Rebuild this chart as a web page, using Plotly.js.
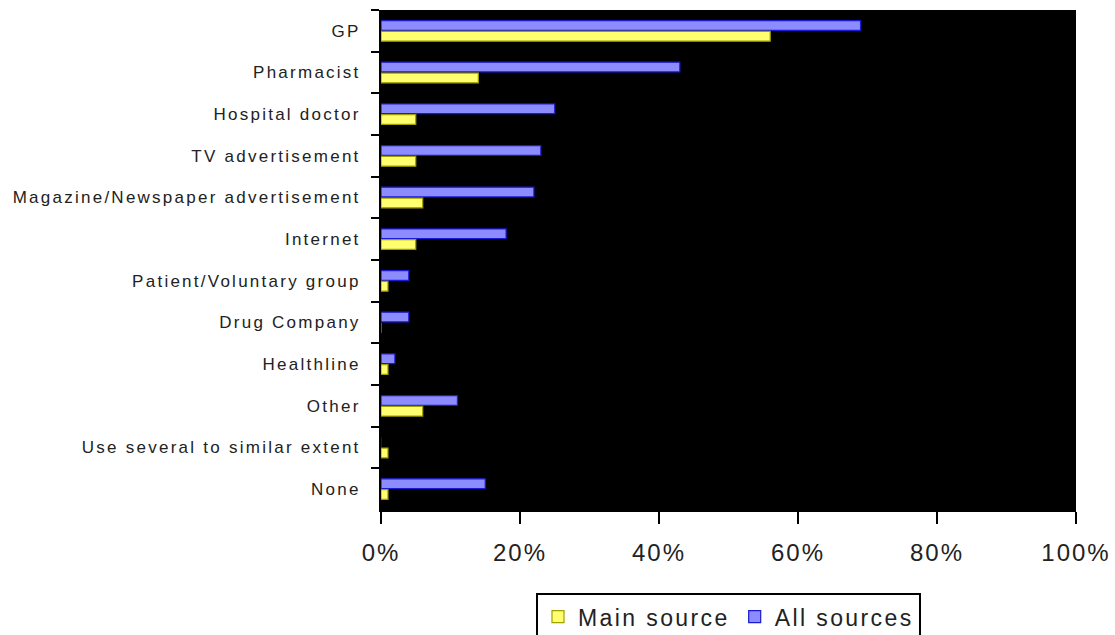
<!DOCTYPE html>
<html>
<head>
<meta charset="utf-8">
<script src="https://cdn.plot.ly/plotly-3.0.1.min.js"></script>
<style>
  html, body { margin: 0; padding: 0; background: #fff; }
  #chart { width: 1115px; height: 635px; }
  .ytick text { letter-spacing: 2.25px; }
  .xtick text { letter-spacing: 2px; }
  .legendtext { letter-spacing: 2.4px; }
</style>
</head>
<body>
<div id="chart"></div>
<script>
const categories = [
  "GP", "Pharmacist", "Hospital doctor", "TV advertisement",
  "Magazine/Newspaper advertisement", "Internet", "Patient/Voluntary group",
  "Drug Company", "Healthline", "Other", "Use several to similar extent", "None"
];
const mainSource = [56, 14, 5, 5, 6, 5, 1, 0, 1, 6, 1, 1];
const allSources = [69, 43, 25, 23, 22, 18, 4, 4, 2, 11, 0, 15];
const xTicks = [0, 20, 40, 60, 80, 100];

const traces = [
  {
    type: "bar", orientation: "h", name: "All sources",
    y: categories, x: allSources,
    marker: { color: "#8c8cff", line: { color: "#1a1ad0", width: 1.2 } }
  },
  {
    type: "bar", orientation: "h", name: "Main source",
    y: categories, x: mainSource,
    marker: { color: "#ffff70", line: { color: "#a0a000", width: 1.2 } }
  }
];

const layout = {
  width: 1115, height: 635,
  margin: { l: 381, r: 39, t: 10, b: 125 },
  paper_bgcolor: "#ffffff",
  plot_bgcolor: "#000000",
  barmode: "group",
  bargap: 0.48,
  bargroupgap: 0.1,
  font: { family: "Liberation Sans, Arial, sans-serif", color: "#222" },
  xaxis: {
    range: [0, 100], tickvals: xTicks, ticktext: xTicks.map(v => v + "%"),
    showgrid: false, zeroline: false,
    showline: true, linecolor: "#000", linewidth: 2,
    ticks: "outside", ticklen: 12, tickwidth: 2, tickcolor: "#000",
    tickfont: { size: 24, color: "#222" }, ticklabelstandoff: 8
  },
  yaxis: {
    type: "category", categoryorder: "array", categoryarray: categories,
    autorange: "reversed",
    showgrid: false, zeroline: false,
    showline: true, linecolor: "#000", linewidth: 2,
    ticks: "outside", tickson: "boundaries", ticklen: 8, tickwidth: 2, tickcolor: "#000",
    tickfont: { size: 17, color: "#222" }, ticklabelstandoff: 15
  },
  showlegend: true,
  legend: {
    orientation: "h", traceorder: "reversed",
    xref: "paper", yref: "container",
    x: 0.5, xanchor: "center", y: 0.066, yanchor: "top",
    bordercolor: "#000", borderwidth: 2, bgcolor: "#fff",
    font: { size: 23, color: "#222" }
  }
};

Plotly.newPlot("chart", traces, layout, { displayModeBar: false, staticPlot: true });
</script>
</body>
</html>
